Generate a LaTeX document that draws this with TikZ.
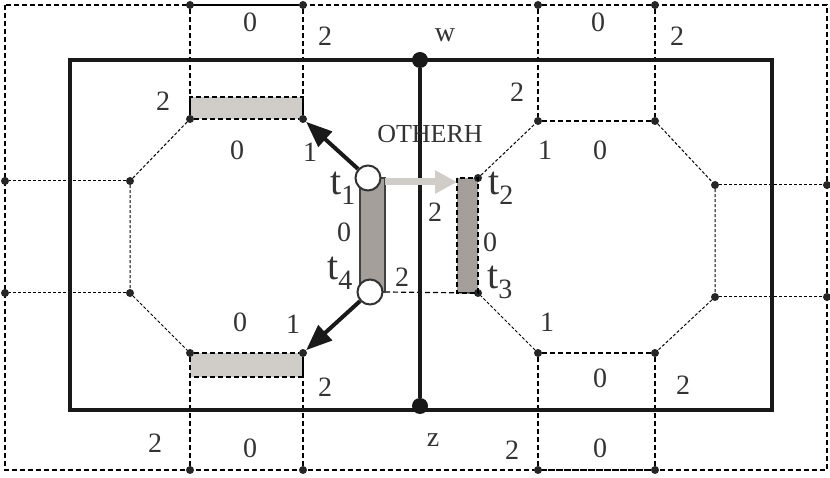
\documentclass[tikz,border=0pt]{standalone}
\usepackage{fontspec}
\setmainfont{Liberation Serif}
\usetikzlibrary{arrows.meta}
\tikzset{
 dl/.style={dashed,line width=1.2pt,dash pattern=on 5pt off 3pt},
 dt/.style={densely dashed,line width=1pt,dash pattern=on 3pt off 2pt},
 dot/.style={circle,fill=black!85,inner sep=0pt,minimum size=8pt},
 bigdot/.style={circle,fill=black!90,inner sep=0pt,minimum size=16pt},
 lab/.style={font=\fontsize{28}{30}\selectfont,text=black!80,inner sep=0pt},
 tlab/.style={font=\fontsize{40}{42}\selectfont,text=black!80,inner sep=0pt},
 hole/.style={circle,draw=black!80,line width=2pt,fill=white,inner sep=0pt,minimum size=25pt},
}
\begin{document}
\begin{tikzpicture}[x=1pt,y=-1pt]
\useasboundingbox (0,0) rectangle (830,478);
% outer dashed
\draw[dl] (5,5) rectangle (827,470);
% beige rects
\fill[black!25!white,fill=brown!15!gray!40] (190,97) rectangle (303,119);
\fill[fill=brown!15!gray!40] (190,353) rectangle (303,377);
\fill[fill=brown!10!gray!75] (360,178) rectangle (385,292);
\fill[fill=brown!10!gray!75] (457,178) rectangle (478,293);
% coordinates
\foreach \n/\x/\y in {a1/190/119,a2/303/119,a3/130/181,a4/130/293,a5/190/353,a6/303/353,
 b1/538/121,b2/655/121,b3/715/185,b4/715/297,b5/655/353,b6/538/353,
 t2/478/178,t3/478/293,
 e1/5/181,e2/5/293,e3/827/185,e4/827/297,
 u1/190/5,u2/303/5,u3/538/5,u4/655/5,
 d1/190/470,d2/303/470,d3/538/470,d4/655/470}
 \node[dot] (\n) at (\x,\y) {};
\coordinate (bb) at (385,292);
% left octagon
\draw[dt] (a1) -- (a3) -- (a4) -- (a5);
\draw[dt] (a3) -- (e1); \draw[dt] (a4) -- (e2);
\draw[dl] (a1) -- (a2); \draw[dl] (a1) -- (190,97) -- (303,97) -- (a2);
\draw[dl] (a5) -- (a6); \draw[dl] (a5) -- (190,377) -- (303,377) -- (a6);
\draw[dl] (u1) -- (a1); \draw[dl] (u2) -- (a2);
\draw[dl] (d1) -- (a5); \draw[dl] (d2) -- (a6);
% right octagon
\draw[dt] (t2) -- (b1); \draw[dt] (b2) -- (b3) -- (b4) -- (b5); \draw[dt] (b6) -- (t3);
\draw[dl] (b1) -- (b2); \draw[dl] (b5) -- (b6);
\draw[dt] (b3) -- (e3); \draw[dt] (b4) -- (e4);
\draw[dl] (u3) -- (b1); \draw[dl] (u4) -- (b2);
\draw[dl] (d3) -- (b6); \draw[dl] (d4) -- (b5);
\draw[dl] (u1) -- (u2); \draw[dl] (u3) -- (u4); \draw[dl] (d3) -- (d4);
% right bar
\draw[dl] (457,178) rectangle (478,293);
\draw[dl] (bb) -- (t3);
% left bar
\draw[line width=2.5pt,black!75] (360,178) rectangle (385,292);
% thick frame
\draw[line width=4pt,black!90] (70,60) rectangle (772,410);
\node[bigdot] (w) at (420,60) {};
\node[bigdot] (z) at (420,406) {};
\draw[line width=4pt,black!90] (w) -- (z);
% gray arrow
\draw[line width=7pt,draw=brown!15!gray!40,-{Triangle[length=22pt,width=22pt]}] (385,182) -- (457,182);
% holes and arrows
\node[hole] (t1) at (368,178) {};
\node[hole] (t4) at (370,292) {};
\draw[line width=4pt,black!90,-{Triangle[length=26pt,width=20pt]}] (t1) -- (a2);
\draw[line width=4pt,black!90,-{Triangle[length=26pt,width=20pt]}] (t4) -- (a6);
% labels
\foreach \x/\y/\t in {250/22/0,325/36/2,598/22/0,677/36/2,163/101/2,237/150/0,310/152/1,
 517/92/2,545/150/1,600/150/0,435/212/2,344/232/0,490/242/0,402/277/2,547/322/1,
 240/322/0,293/324/1,325/387/2,600/378/0,683/385/2,155/443/2,250/448/0,512/450/2,600/448/0}
 \node[lab] (l\x\y) at (\x,\y) {\t};
\node[lab] (wl) at (445,35) {w};
\node[lab] (zl) at (433,440) {z};
\node[lab,font=\fontsize{26}{28}\selectfont] (oth) at (430,134) {OTHERH};
\node[tlab] (tl1) at (343,188) {t\textsubscript{1}};
\node[tlab] (tl2) at (501,188) {t\textsubscript{2}};
\node[tlab] (tl4) at (340,273) {t\textsubscript{4}};
\node[tlab] (tl3) at (500,282) {t\textsubscript{3}};
\end{tikzpicture}
\end{document}
